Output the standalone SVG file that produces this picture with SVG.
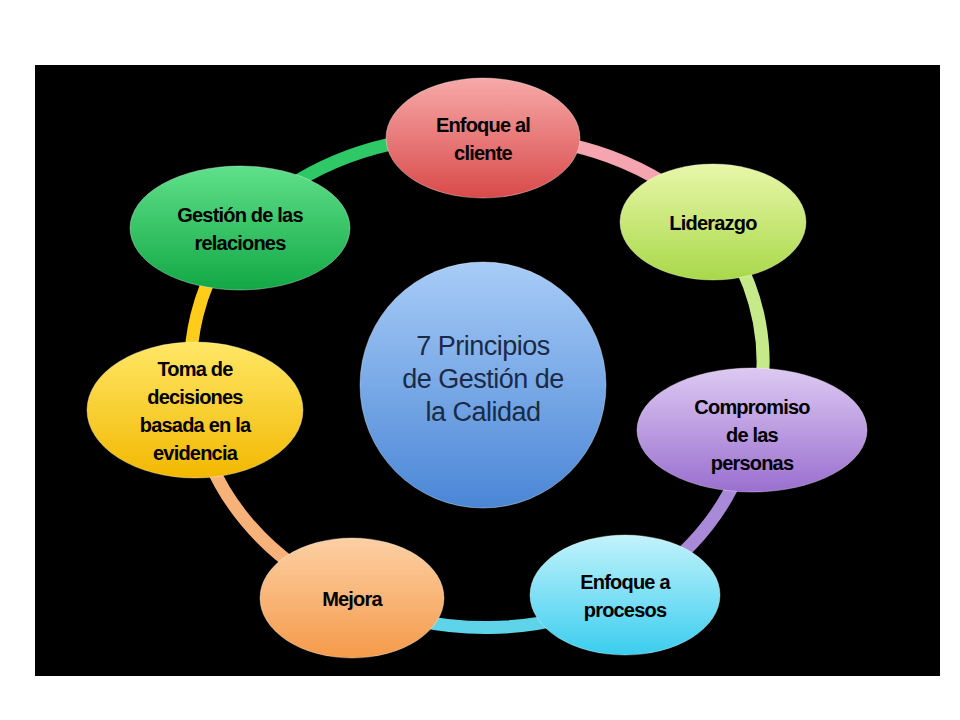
<svg xmlns="http://www.w3.org/2000/svg" width="960" height="720" viewBox="0 0 960 720">
<defs>
<style>
.t{font-family:"Liberation Sans",Arial,sans-serif;font-weight:bold;font-size:20px;fill:#000;text-anchor:middle;letter-spacing:-0.8px}
.c{font-family:"Liberation Sans",Arial,sans-serif;font-size:27px;fill:#1b2b45;text-anchor:middle;letter-spacing:-0.5px}
.seg{fill:none;stroke-width:13;stroke-linecap:round}
.n{stroke:#ffffff;stroke-opacity:0.35;stroke-width:1}
</style>
<linearGradient id="gR" x1="0" y1="0" x2="0" y2="1"><stop offset="0" stop-color="#f7a9a9"/><stop offset="1" stop-color="#d94a4a"/></linearGradient>
<linearGradient id="gL" x1="0" y1="0" x2="0" y2="1"><stop offset="0" stop-color="#e8f7a8"/><stop offset="1" stop-color="#a9d84a"/></linearGradient>
<linearGradient id="gP" x1="0" y1="0" x2="0" y2="1"><stop offset="0" stop-color="#ddc9f2"/><stop offset="1" stop-color="#9a6fd0"/></linearGradient>
<linearGradient id="gC" x1="0" y1="0" x2="0" y2="1"><stop offset="0" stop-color="#c2f3fb"/><stop offset="1" stop-color="#3bcdef"/></linearGradient>
<linearGradient id="gO" x1="0" y1="0" x2="0" y2="1"><stop offset="0" stop-color="#fcd0a4"/><stop offset="1" stop-color="#f59a4a"/></linearGradient>
<linearGradient id="gY" x1="0" y1="0" x2="0" y2="1"><stop offset="0" stop-color="#ffe766"/><stop offset="1" stop-color="#f2b800"/></linearGradient>
<linearGradient id="gG" x1="0" y1="0" x2="0" y2="1"><stop offset="0" stop-color="#5fe08a"/><stop offset="1" stop-color="#12a845"/></linearGradient>
<linearGradient id="gB" x1="0" y1="0" x2="0" y2="1"><stop offset="0" stop-color="#a8ccf7"/><stop offset="1" stop-color="#4a86d6"/></linearGradient>
</defs>
<rect x="0" y="0" width="960" height="720" fill="#fff"/>
<rect x="35" y="65" width="905" height="611" fill="#000"/>
<g id="connectors">
<path class="seg" stroke="#f5a5b0" d="M483,138 A280 245 0 0 1 713,222"/>
<path class="seg" stroke="#c6e98a" d="M713,222 A280 245 0 0 1 752,430"/>
<path class="seg" stroke="#a98ad8" d="M752,430 A280 245 0 0 1 625,595"/>
<path class="seg" stroke="#5fd3e8" d="M625,595 A280 245 0 0 1 352,598"/>
<path class="seg" stroke="#f7b27a" d="M352,598 A280 245 0 0 1 195,410"/>
<path class="seg" stroke="#ffcc1a" d="M195,410 A280 245 0 0 1 240,228"/>
<path class="seg" stroke="#2fc866" d="M240,228 A280 245 0 0 1 483,138"/>
</g>
<g id="center"><circle class="n" cx="483" cy="385" r="123" fill="url(#gB)"/>
<text class="c" x="483" y="355">7 Principios</text><text class="c" x="483" y="388">de Gestión de</text><text class="c" x="483" y="421">la Calidad</text></g>
<g id="n1"><ellipse class="n" cx="483" cy="138" rx="97" ry="60" fill="url(#gR)"/><text class="t" x="483" y="132">Enfoque al</text><text class="t" x="483" y="160">cliente</text></g>
<g id="n2"><ellipse class="n" cx="713" cy="222" rx="93" ry="58" fill="url(#gL)"/><text class="t" x="713" y="230">Liderazgo</text></g>
<g id="n3"><ellipse class="n" cx="752" cy="430" rx="115" ry="62" fill="url(#gP)"/><text class="t" x="752" y="414">Compromiso</text><text class="t" x="752" y="442">de las</text><text class="t" x="752" y="470">personas</text></g>
<g id="n4"><ellipse class="n" cx="625" cy="595" rx="95" ry="60" fill="url(#gC)"/><text class="t" x="625" y="589">Enfoque a</text><text class="t" x="625" y="617">procesos</text></g>
<g id="n5"><ellipse class="n" cx="352" cy="598" rx="92" ry="60" fill="url(#gO)"/><text class="t" x="352" y="606">Mejora</text></g>
<g id="n6"><ellipse class="n" cx="195" cy="410" rx="108" ry="68" fill="url(#gY)"/><text class="t" x="195" y="376">Toma de</text><text class="t" x="195" y="404">decisiones</text><text class="t" x="195" y="432">basada en la</text><text class="t" x="195" y="460">evidencia</text></g>
<g id="n7"><ellipse class="n" cx="240" cy="228" rx="110" ry="62" fill="url(#gG)"/><text class="t" x="240" y="222">Gestión de las</text><text class="t" x="240" y="250">relaciones</text></g>
</svg>
